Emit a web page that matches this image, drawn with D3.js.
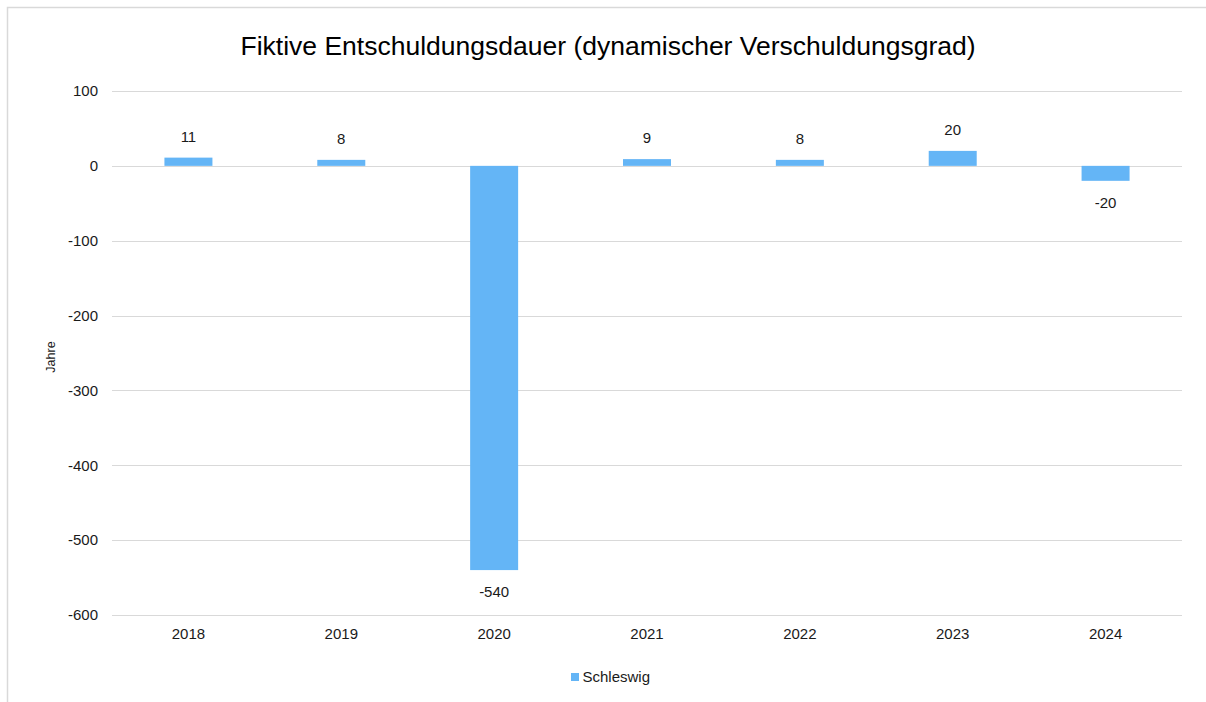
<!DOCTYPE html>
<html>
<head>
<meta charset="utf-8">
<script src="https://cdn.jsdelivr.net/npm/d3@7"></script>
<style>
  html, body { margin: 0; padding: 0; background: #fff; }
  svg { display: block; font-family: "Liberation Sans", Arial, sans-serif; }
</style>
</head>
<body>
<svg id="chart" width="1206" height="702"></svg>
<script>
// Fiktive Entschuldungsdauer je Jahr (in Jahren)
const years = ["2018", "2019", "2020", "2021", "2022", "2023", "2024"];
const schleswig = [11, 8, -540, 9, 8, 20, -20];
const yTicks = [100, 0, -100, -200, -300, -400, -500, -600];
const seriesName = "Schleswig";
const titleText = "Fiktive Entschuldungsdauer (dynamischer Verschuldungsgrad)";
const yAxisLabel = "Jahre";

const svg = d3.select("#chart");
const W = 1206, H = 702;
const plot = { left: 112, right: 1182, top: 91, bottom: 615 };
const barColor = "#64b5f6";
const gridColor = "#d9d9d9";
const textColor = "#1a1a1a";
const fontFamily = "Liberation Sans, Arial, sans-serif";

// outer frame
svg.append("rect")
  .attr("x", 7.5).attr("y", 7.5)
  .attr("width", W + 10).attr("height", H + 10)
  .attr("fill", "#fff").attr("stroke", gridColor).attr("stroke-width", 1.5);

const x = d3.scaleBand().domain(years).range([plot.left, plot.right])
  .paddingInner(0.686).paddingOuter(0.343);
const y = d3.scaleLinear().domain([-600, 100]).range([plot.bottom, plot.top]);

// title
svg.append("text")
  .attr("x", 608).attr("y", 55)
  .attr("text-anchor", "middle")
  .attr("font-size", 26.5).attr("fill", "#000")
  .text(titleText);

// gridlines
svg.append("g").selectAll("line").data(yTicks).join("line")
  .attr("x1", plot.left).attr("x2", plot.right)
  .attr("y1", d => Math.round(y(d)) + 0.5).attr("y2", d => Math.round(y(d)) + 0.5)
  .attr("stroke", gridColor).attr("stroke-width", 1.2);

// y axis tick labels
const yAxis = d3.axisLeft(y).tickValues(yTicks).tickSize(0).tickPadding(0)
  .tickFormat(d => String(d));
const gy = svg.append("g").attr("transform", `translate(${plot.left - 14},0)`).call(yAxis);
gy.select(".domain").remove();
gy.selectAll("text").attr("font-size", 15).attr("fill", textColor)
  .attr("font-family", fontFamily);

// x axis category labels
const xAxis = d3.axisBottom(x).tickSize(0).tickPadding(0);
const gx = svg.append("g").attr("transform", `translate(0,${plot.bottom})`).call(xAxis);
gx.select(".domain").remove();
gx.selectAll("text").attr("font-size", 15).attr("fill", textColor)
  .attr("font-family", fontFamily).attr("dy", null).attr("y", 24);

// y axis title
svg.append("text")
  .attr("transform", `translate(55,357) rotate(-90)`)
  .attr("text-anchor", "middle")
  .attr("font-size", 12.5).attr("fill", textColor)
  .text(yAxisLabel);

const data = years.map((yr, i) => ({ year: yr, value: schleswig[i] }));

// bars
svg.append("g").selectAll("rect").data(data).join("rect")
  .attr("x", d => x(d.year))
  .attr("width", x.bandwidth())
  .attr("y", d => y(Math.max(0, d.value)))
  .attr("height", d => Math.abs(y(d.value) - y(0)))
  .attr("fill", barColor);

// value labels
svg.append("g").selectAll("text").data(data).join("text")
  .attr("x", d => x(d.year) + x.bandwidth() / 2)
  .attr("y", d => d.value >= 0 ? y(d.value) - 16 : y(d.value) + 27)
  .attr("text-anchor", "middle")
  .attr("font-size", 15).attr("fill", textColor)
  .text(d => String(d.value));

// legend
const lg = svg.append("g").attr("transform", "translate(571,673)");
lg.append("rect").attr("width", 8).attr("height", 8).attr("fill", barColor);
lg.append("text").attr("x", 11.5).attr("y", 9).attr("font-size", 15).attr("fill", textColor).text(seriesName);
</script>
</body>
</html>
